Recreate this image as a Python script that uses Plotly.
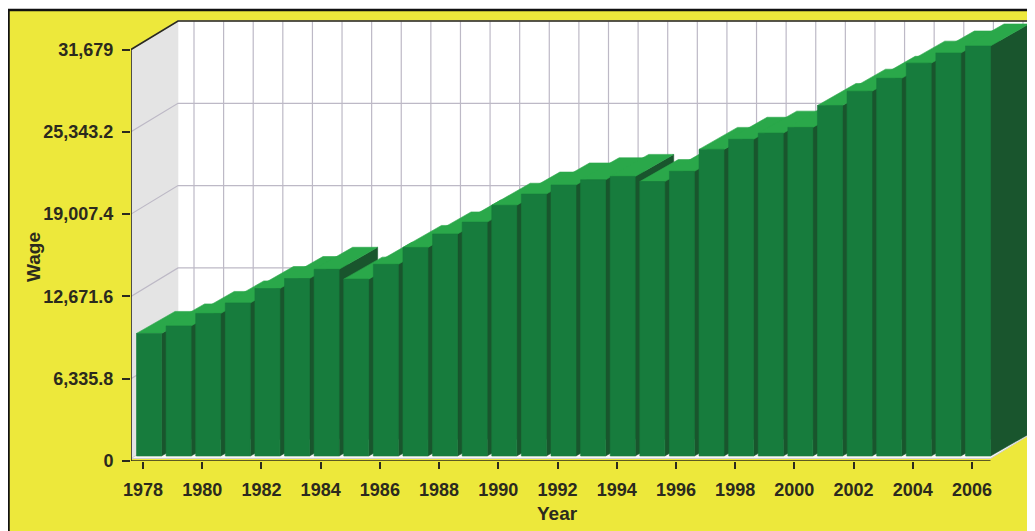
import plotly.graph_objects as go

# ---------------- data ----------------
YEARS = list(range(1978, 2007))
WAGES = [9820, 10400, 11360, 12170, 13280, 14050, 14760, 14000, 15140, 16440,
         17480, 18390, 19690, 20550, 21250, 21650, 21910, 21510, 22300, 23990,
         24770, 25240, 25680, 27370, 28470, 29460, 30630, 31410, 31950]
Y_TICK_VALUES = [0, 6335.8, 12671.6, 19007.4, 25343.2, 31679]
Y_TICK_LABELS = ['0', '6,335.8', '12,671.6', '19,007.4', '25,343.2', '31,679']
X_TICK_YEARS = YEARS[::2]
X_TICK_LABELS = [str(y) for y in X_TICK_YEARS]
X_TITLE = 'Year'
Y_TITLE = 'Wage'

# ---------------- geometry / style ----------------
PAGE_OFF = 8                      # browser body margin
W, H = 1035 - PAGE_OFF, 531 - PAGE_OFF
ML, MR, MT = 131 - PAGE_OFF, 0, 20 - PAGE_OFF
Y0_PAGE = 461
MB = H - (Y0_PAGE - PAGE_OFF)
PW, PH = W - ML - MR, H - MT - MB
AXIS_MAX = Y_TICK_VALUES[-1]
UPP = AXIS_MAX / (Y0_PAGE - 49.5)        # value units per pixel
PITCH = 29.607                            # pixels per category
FIRST_TICK_PAGE = 143
XL = YEARS[0] - (FIRST_TICK_PAGE - 131) / PITCH
XR = XL + PW / PITCH
YTOP = PH * UPP

WDX, WDY = 47 / PITCH, 28.5 * UPP         # wall depth
BDX, BDY = 38.5 / PITCH, 22 * UPP         # bar depth
BAR_L, BAR_R = -6.5 / PITCH, 18.5 / PITCH
BAR_BASE = 5 * UPP
FLOOR_BASE = 2.5 * UPP
GRID_DX = 51 / PITCH

YELLOW = '#EDE83B'
FRONT = '#177C3D'
TOP = '#2AA84A'
SIDE = '#19552D'
LEFT_WALL = '#E4E4E4'
GRID = '#BDB9C6'
DARK = '#2B2A1E'
FONT = 'Liberation Sans'

fig = go.Figure()


def poly(xs, ys, color, line_color=None, lw=0.6):
    fig.add_trace(go.Scatter(
        x=list(xs) + [xs[0]], y=list(ys) + [ys[0]], mode='lines', fill='toself',
        fillcolor=color, line=dict(color=line_color or color, width=lw),
        hoverinfo='skip', showlegend=False))


def lines(xs, ys, color, lw):
    fig.add_trace(go.Scatter(x=xs, y=ys, mode='lines',
                             line=dict(color=color, width=lw),
                             hoverinfo='skip', showlegend=False))


# walls
bx0 = XL + WDX
poly([bx0, XR + 1, XR + 1, bx0],
     [FLOOR_BASE + WDY, FLOOR_BASE + WDY, AXIS_MAX + WDY, AXIS_MAX + WDY], 'white')
poly([XL, XL, bx0, bx0],
     [FLOOR_BASE, AXIS_MAX, AXIS_MAX + WDY, FLOOR_BASE + WDY], LEFT_WALL)

# gridlines
gx, gy = [], []
for v in Y_TICK_VALUES[1:]:
    gx += [XL, bx0, XR + 1, None]
    gy += [v, v + WDY, v + WDY, None]
for yr in YEARS:
    gx += [yr + GRID_DX, yr + GRID_DX, None]
    gy += [FLOOR_BASE + WDY, AXIS_MAX + WDY, None]
lines(gx, gy, GRID, 1.2)

# floor
xf = YEARS[-1] + BAR_R
poly([XL, xf, xf + WDX, bx0],
     [FLOOR_BASE, FLOOR_BASE, FLOOR_BASE + WDY, FLOOR_BASE + WDY],
     '#F7F7F7', '#D0D0D0', 1)

# bars (drawn left to right so each covers its neighbour's depth faces)
for yr, v in zip(YEARS, WAGES):
    l, r = yr + BAR_L, yr + BAR_R
    poly([r, r + BDX, r + BDX, r], [BAR_BASE, BAR_BASE + BDY, v + BDY, v], SIDE)
    poly([l, r, r + BDX, l + BDX], [v, v, v + BDY, v + BDY], TOP)
    poly([l, r, r, l], [BAR_BASE, BAR_BASE, v, v], FRONT)

# outlines / axis lines
lines([XL, XL, bx0, XR + 1], [0, AXIS_MAX, AXIS_MAX + WDY, AXIS_MAX + WDY], DARK, 1.6)
lines([XL, xf], [0, 0], DARK, 1.6)


def px_x(page_x):
    return (page_x - PAGE_OFF - ML) / PW


def px_y(page_y):
    return (H - MB - (page_y - PAGE_OFF)) / PH


tick_font = dict(family=FONT, size=18, color=DARK, weight='bold')
title_font = dict(family=FONT, size=19, color=DARK, weight='bold')
fig.update_layout(
    template='none',
    width=W, height=H,
    margin=dict(l=ML, r=MR, t=MT, b=MB, pad=0),
    paper_bgcolor='white',
    plot_bgcolor='rgba(0,0,0,0)',
    showlegend=False,
    hovermode=False,
    xaxis=dict(range=[XL, XR], tickmode='array', tickvals=X_TICK_YEARS,
               ticktext=X_TICK_LABELS, ticks='outside', ticklen=7, tickwidth=1.5,
               tickcolor=DARK, showgrid=False, zeroline=False, showline=False,
               tickfont=tick_font, automargin=False, fixedrange=True,
               ticklabelstandoff=5),
    yaxis=dict(range=[0, YTOP], tickmode='array', tickvals=Y_TICK_VALUES,
               ticktext=Y_TICK_LABELS, ticks='outside', ticklen=8, tickwidth=1.5,
               tickcolor=DARK, showgrid=False, zeroline=False, showline=False,
               tickfont=tick_font, automargin=False, fixedrange=True,
               ticklabelstandoff=5),
    shapes=[dict(type='rect', xref='paper', yref='paper', layer='below',
                 x0=px_x(8.5), x1=px_x(1060), y0=px_y(560), y1=px_y(10),
                 fillcolor=YELLOW, line=dict(color='#111111', width=2.5))],
    annotations=[
        dict(text=Y_TITLE, xref='paper', yref='paper', x=px_x(34), y=px_y(257),
             textangle=-90, showarrow=False, xanchor='center', yanchor='middle',
             font=title_font),
        dict(text=X_TITLE, xref='paper', yref='paper', x=px_x(557), y=px_y(513),
             showarrow=False, xanchor='center', yanchor='middle',
             font=title_font),
    ],
)

fig.write_html('out.html')
